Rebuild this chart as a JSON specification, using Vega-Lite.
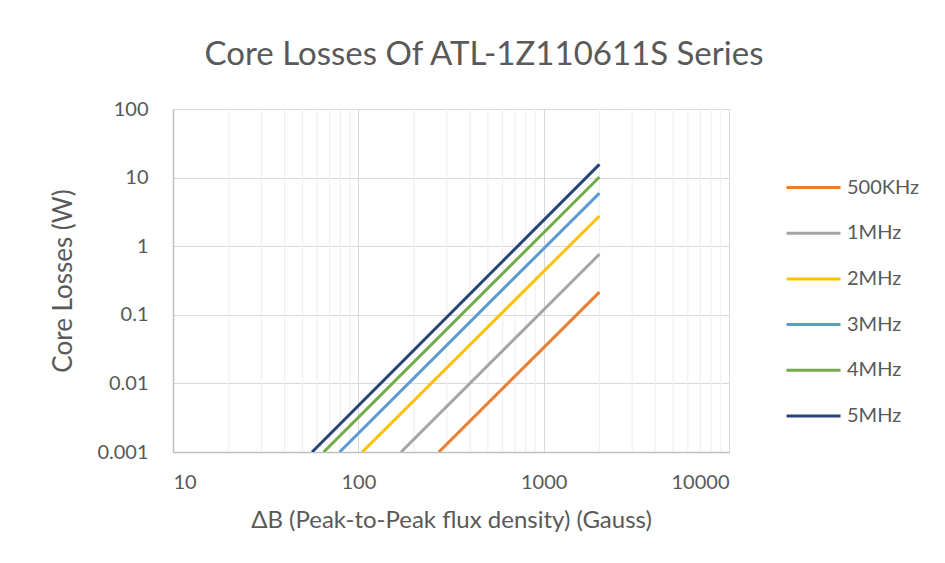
{
  "$schema": "https://vega.github.io/schema/vega-lite/v6.json",
  "width": 556,
  "height": 343,
  "autosize": "none",
  "padding": {"left": 173, "top": 109, "right": 216, "bottom": 111},
  "background": "white",
  "title": {
    "text": "Core Losses Of ATL-1Z110611S Series",
    "fontSize": 33,
    "font": "Lato",
    "fontWeight": "normal",
    "color": "#595959",
    "anchor": "middle",
    "dx": 33,
    "offset": 27
  },
  "config": {
    "font": "Lato",
    "view": {"stroke": null},
    "axis": {
      "labelColor": "#595959",
      "titleColor": "#595959",
      "labelFontSize": 20,
      "titleFontWeight": "normal",
      "labelFont": "Lato",
      "titleFont": "Lato",
      "gridColor": "#d9d9d9",
      "domainColor": "#bfbfbf",
      "domainWidth": 1.5,
      "ticks": false
    }
  },
  "datasets": {
    "series": [
      {"B": 272, "loss": 0.001, "freq": "500KHz"},
      {"B": 2000, "loss": 0.214, "freq": "500KHz"},
      {"B": 170, "loss": 0.001, "freq": "1MHz"},
      {"B": 2000, "loss": 0.765, "freq": "1MHz"},
      {"B": 105, "loss": 0.001, "freq": "2MHz"},
      {"B": 2000, "loss": 2.76, "freq": "2MHz"},
      {"B": 79.3, "loss": 0.001, "freq": "3MHz"},
      {"B": 2000, "loss": 5.95, "freq": "3MHz"},
      {"B": 65, "loss": 0.001, "freq": "4MHz"},
      {"B": 2000, "loss": 10.2, "freq": "4MHz"},
      {"B": 56.3, "loss": 0.001, "freq": "5MHz"},
      {"B": 2000, "loss": 15.6, "freq": "5MHz"}
    ],
    "minor": [
      {"B": 20}, {"B": 30}, {"B": 40}, {"B": 50}, {"B": 60}, {"B": 70}, {"B": 80}, {"B": 90},
      {"B": 200}, {"B": 300}, {"B": 400}, {"B": 500}, {"B": 600}, {"B": 700}, {"B": 800}, {"B": 900},
      {"B": 2000}, {"B": 3000}, {"B": 4000}, {"B": 5000}, {"B": 6000}, {"B": 7000}, {"B": 8000}, {"B": 9000}
    ]
  },
  "layer": [
    {
      "data": {"name": "minor"},
      "mark": {"type": "rule", "color": "#f0f0f0", "strokeWidth": 1.2},
      "encoding": {
        "x": {"field": "B", "type": "quantitative", "scale": {"type": "log", "domain": [10, 10000]}}
      }
    },
    {
      "data": {"name": "series"},
      "mark": {"type": "line", "strokeWidth": 3, "clip": true},
      "encoding": {
        "x": {
          "field": "B",
          "type": "quantitative",
          "scale": {"type": "log", "domain": [10, 10000]},
          "axis": {
            "values": [10, 100, 1000, 10000],
            "format": "d",
            "title": "ΔB (Peak-to-Peak flux density) (Gauss)",
            "titleFontSize": 24,
            "labelPadding": 20,
            "titlePadding": 16,
            "grid": true
          }
        },
        "y": {
          "field": "loss",
          "type": "quantitative",
          "scale": {"type": "log", "domain": [0.001, 100]},
          "axis": {
            "values": [0.001, 0.01, 0.1, 1, 10, 100],
            "format": "~g",
            "title": "Core Losses (W)",
            "titleFontSize": 26,
            "labelPadding": 25,
            "titlePadding": 20,
            "grid": true
          }
        },
        "color": {
          "field": "freq",
          "type": "nominal",
          "scale": {
            "domain": ["500KHz", "1MHz", "2MHz", "3MHz", "4MHz", "5MHz"],
            "range": ["#ED7D31", "#A5A5A5", "#FFC000", "#5B9BD5", "#70AD47", "#264478"]
          },
          "legend": {
            "title": null,
            "orient": "none",
            "legendX": 612,
            "legendY": 50,
            "symbolType": "stroke",
            "symbolSize": 2916,
            "symbolStrokeWidth": 3,
            "labelFontSize": 20,
            "labelColor": "#595959",
            "labelOffset": 5,
            "rowPadding": 6.7
          }
        }
      }
    }
  ]
}
